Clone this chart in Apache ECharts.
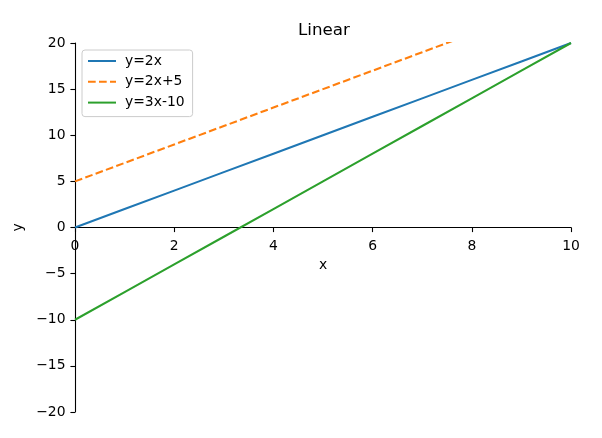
<!DOCTYPE html>
<html><head><meta charset="utf-8">
<script src="https://cdn.jsdelivr.net/npm/echarts@6/dist/echarts.min.js"></script>
<style>html,body{margin:0;padding:0;background:#fff}#c{width:602px;height:438px}</style>
</head><body><div id="c"></div>
<script>
const xs = [0,1,2,3,4,5,6,7,8,9,10];
const y1 = [0,2,4,6,8,10,12,14,16,18,20];
const y2 = [5,7,9,11,13,15,17,19,21,23,25];
const y3 = [-10,-7,-4,-1,2,5,8,11,14,17,20];
const names = ['y=2x','y=2x+5','y=3x-10'];
const colors = ['#1f77b4','#ff7f0e','#2ca02c'];
const font = 'DejaVu Sans';
const W = 602, H = 438;
const G = {left:75, right:31, top:43, bottom:26};
const plotH = H - G.top - G.bottom;
const plotW = W - G.left - G.right;
const LW = 2.08;
const pairs = ys => xs.map((x,i)=>[x, ys[i]]);
const chart = echarts.init(document.getElementById('c'), null, {renderer:'canvas'});
chart.setOption({
  animation:false,
  textStyle:{fontFamily:font},
  title:{text:'Linear', left:G.left + plotW/2 - 30, top:17, textStyle:{fontFamily:font, fontSize:16.7, fontWeight:'normal', color:'#000'}},
  grid:Object.assign({outerBoundsMode:'none', containLabel:false}, G),
  legend:{left:82, top:50, orient:'vertical', padding:[4,8,7,5], itemWidth:28, itemHeight:14, itemGap:6.8,
    borderColor:'#cccccc', borderWidth:1, borderRadius:3, backgroundColor:'rgba(255,255,255,0.8)',
    itemStyle:{opacity:0},
    textStyle:{fontFamily:font, fontSize:13.9, color:'#000', padding:[0,0,0,4]}, data:names},
  xAxis:{type:'value', min:0, max:10, interval:2, name:'x', nameLocation:'middle', nameGap:30,
    position:'bottom', offset:-plotH/2,
    nameTextStyle:{fontFamily:font, fontSize:13.9, color:'#000'},
    axisLine:{onZero:false, lineStyle:{color:'#000', width:1.1}},
    axisTick:{show:true, length:4.6, lineStyle:{color:'#000', width:1.1}},
    axisLabel:{fontFamily:font, fontSize:13.9, color:'#000', margin:11.5},
    splitLine:{show:false}},
  yAxis:{type:'value', min:-20, max:20, interval:5, name:'y', nameLocation:'middle', nameGap:46,
    nameTextStyle:{fontFamily:font, fontSize:13.9, color:'#000'},
    axisLine:{show:true, onZero:false, lineStyle:{color:'#000', width:1.1}},
    axisTick:{show:true, length:4.6, lineStyle:{color:'#000', width:1.1}},
    axisLabel:{fontFamily:font, fontSize:13.9, color:'#000', margin:9.5, formatter:v=>String(v).replace('-','\u2212')},
    splitLine:{show:false}},
  series:[
    {name:names[0], type:'line', data:pairs(y1), symbol:'none', lineStyle:{color:colors[0], width:LW}, itemStyle:{color:colors[0]}},
    {name:names[1], type:'line', data:pairs(y2), symbol:'none', lineStyle:{color:colors[1], width:LW, type:[7.7,3.3]}, itemStyle:{color:colors[1]}},
    {name:names[2], type:'line', data:pairs(y3), symbol:'none', lineStyle:{color:colors[2], width:LW}, itemStyle:{color:colors[2]}}
  ]
});
</script></body></html>
